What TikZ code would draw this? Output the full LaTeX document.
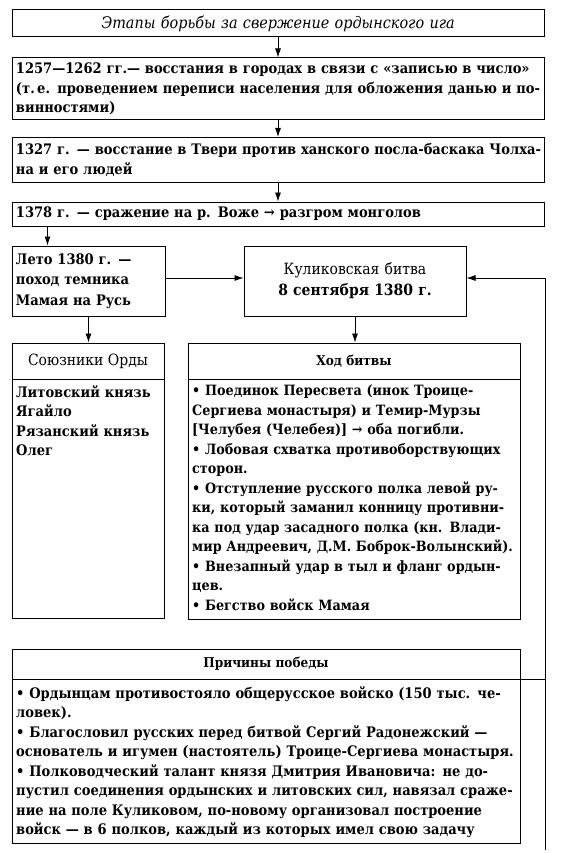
\documentclass[tikz,border=0pt]{standalone}
\usepackage{fontspec}
\setmainfont[FakeStretch=0.9]{DejaVu Serif}
\usetikzlibrary{arrows.meta}
\newcommand\jline[1]{\makebox[\linewidth][s]{#1}}

\tikzset{
  box/.style={draw, line width=1pt, inner xsep=4pt, inner ysep=0pt},
  frame/.style={draw, line width=1pt, inner sep=0pt},
  txt/.style={font=\bfseries\fontsize{14.5}{19.5}\selectfont},
  head/.style={inner sep=0pt, font=\bfseries\fontsize{13.5}{15}\selectfont},
  body/.style={txt, inner sep=0pt, align=left, anchor=north west},
  arr/.style={-{Latex[length=9pt,width=6pt]}, line width=0.8pt},
}

\begin{document}
\begin{tikzpicture}[x=1pt, y=-1pt]
			%%%%% START %%%%%
			\useasboundingbox (0,0) rectangle (578,853);
			
			% stages
			\node[box, minimum width=532pt, minimum height=27pt, text width=524pt, align=center,
			      font=\itshape\fontsize{16}{18}\selectfont] (stages) at (278, 23.5)
			      {Этапы борьбы за свержение ордынского ига};
			
			\node[box, txt, minimum width=532pt, minimum height=62pt, text width=524pt, align=left] (census) at (278, 89)
			      {\jline{1257—1262 гг.— восстания в городах в связи с «записью в число»}\\
			       \jline{(т.\,е. проведением переписи населения для обложения данью и по-}\\
			       винностями)};
			
			\node[box, txt, minimum width=532pt, minimum height=45pt, text width=524pt, align=left] (tver) at (278, 160)
			      {\jline{1327 г. — восстание в Твери против ханского посла-баскака Чолха-}\\
			       на и его людей};
			
			\node[box, txt, minimum width=532pt, minimum height=24pt, text width=524pt, align=left] (vozha) at (278, 214)
			      {1378 г. — сражение на р. Воже → разгром монголов};
			
			% 1380
			\node[box, minimum width=153pt, minimum height=70pt, text width=145pt, align=left,
			      font=\bfseries\fontsize{14.5}{20.5}\selectfont] (summer) at (88.5, 281)
			      {Лето 1380 г. —\\ поход темника\\ Мамая на Русь};
			
			\node[box, minimum width=222pt, minimum height=70pt, text width=214pt, align=center,
			      font=\fontsize{15.5}{21}\selectfont] (battle) at (355, 281)
			      {Куликовская битва\\ \textbf{8 сентября 1380 г.}};
			
			\coordinate (hook) at (545, 278);
			\coordinate (tail) at (545, 850);
			
			% allies
			\node[frame, minimum width=152pt, minimum height=275pt] (allies) at (88, 480.5) {};
			\node[head, font=\fontsize{15.5}{16}\selectfont] (allies-head) at (88, 361) {Союзники Орды};
			\draw[line width=1pt] (allies.west |- 0,379) -- (allies.east |- 0,379);
			\node[body, text width=144pt] (allies-body) at (16, 385)
			      {\jline{Литовский князь}\\ Ягайло\\ \jline{Рязанский князь}\\ Олег};
			
			% course of the battle
			\node[frame, minimum width=332pt, minimum height=276pt] (course) at (354, 481) {};
			\node[head] (course-head) at (354, 361) {Ход битвы};
			\draw[line width=1pt] (course.west |- 0,379) -- (course.east |- 0,379);
			\node[body, text width=324pt, font=\bfseries\fontsize{14.2}{19.5}\selectfont] (course-body) at (192, 385)
			      {• Поединок Пересвета (инок Троице-\\
			       \jline{Сергиева монастыря) и Темир-Мурзы}\\
			       {[}Челубея (Челебея){]} → оба погибли.\\
			       \jline{• Лобовая схватка противоборствующих}\\
			       сторон.\\
			       \jline{• Отступление русского полка левой ру-}\\
			       \jline{ки, который заманил конницу противни-}\\
			       \jline{ка под удар засадного полка (кн. Влади-}\\
			       \jline{мир Андреевич, Д.М. Боброк-Волынский).}\\
			       \jline{• Внезапный удар в тыл и фланг ордын-}\\
			       цев.\\
			       • Бегство войск Мамая};
			
			% causes of victory
			\node[frame, minimum width=508pt, minimum height=194pt] (causes) at (266, 746) {};
			\node[head] (causes-head) at (266, 664) {Причины победы};
			\coordinate (cut) at (12, 679);
			\draw[line width=1pt] (cut) -- (cut -| tail);
			\node[body, text width=500pt] (causes-body) at (16, 686)
			      {\jline{• Ордынцам противостояло общерусское войско (150 тыс. че-}\\
			       ловек).\\
			       \jline{• Благословил русских перед битвой Сергий Радонежский —}\\
			       основатель и игумен (настоятель) Троице-Сергиева монастыря.\\
			       \jline{• Полководческий талант князя Дмитрия Ивановича: не до-}\\
			       \jline{пустил соединения ордынских и литовских сил, навязал сраже-}\\
			       \jline{ние на поле Куликовом, по-новому организовал построение}\\
			       войск — в 6 полков, каждый из которых имел свою задачу};
			
			% arrows
			\draw[arr] (stages) -- (census);
			\draw[arr] (census) -- (tver);
			\draw[arr] (tver) -- (vozha);
			\draw[arr] ([xshift=36pt]vozha.south west) -- ([xshift=36pt]summer.north west);
			\draw[arr] (summer.east |- hook) -- (battle.west |- hook);
			\draw[arr] (summer.south) -- (summer.south |- allies.north);
			\draw[arr] (battle.south) -- (battle.south |- course.north);
			\draw[arr] (tail) -- (hook) -- (battle.east |- hook);
			
			%%%%% END %%%%%
\end{tikzpicture}
\end{document}
